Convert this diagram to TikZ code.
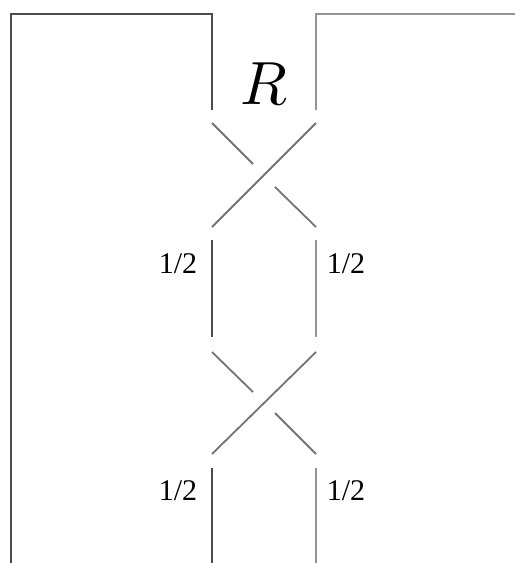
\documentclass[tikz,border=0pt]{standalone}
\usepackage{fontspec}
\newfontfamily\lblfont{Liberation Serif}
\begin{document}
\begin{tikzpicture}[x=1pt,y=-1pt,
  strandL/.style={draw=black!70,line width=2pt},
  strandR/.style={draw=black!42,line width=2pt},
  diag/.style={draw=black!55,line width=1.8pt},
  lbl/.style={inner sep=0pt,font=\lblfont\fontsize{30}{30}\selectfont}]
\useasboundingbox (0,0) rectangle (515,563);
% coordinates
\coordinate (oL) at (11,563);
\coordinate (cTL) at (11,14);
\coordinate (iTL) at (212,14);
\coordinate (iLend) at (212,110);
\coordinate (iTR) at (316,14);
\coordinate (iRend) at (316,110);
\coordinate (edgeR) at (515,14);
% crossing 1
\coordinate (a1) at (212,123);
\coordinate (a1m) at (253,164);
\coordinate (b1) at (316,123);
\coordinate (b1e) at (212,227);
\coordinate (c1) at (275,187);
\coordinate (c1e) at (316,227);
% verticals middle
\coordinate (vL1) at (212,240);
\coordinate (vL2) at (212,337);
\coordinate (vR1) at (316,240);
\coordinate (vR2) at (316,337);
% crossing 2
\coordinate (a2) at (212,352);
\coordinate (a2m) at (253,392);
\coordinate (b2) at (316,352);
\coordinate (b2e) at (212,454);
\coordinate (c2) at (275,413);
\coordinate (c2e) at (316,454);
% bottom verticals
\coordinate (wL1) at (212,468);
\coordinate (wL2) at (212,563);
\coordinate (wR1) at (316,468);
\coordinate (wR2) at (316,563);
% outer frame
\draw[strandL] (oL) -- (cTL) -- (iTL) -- (iLend);
\draw[strandR] (edgeR) -- (iTR) -- (iRend);
% crossings
\draw[diag] (a1) -- (a1m);
\draw[diag] (b1) -- (b1e);
\draw[diag] (c1) -- (c1e);
\draw[diag] (a2) -- (a2m);
\draw[diag] (b2) -- (b2e);
\draw[diag] (c2) -- (c2e);
% verticals
\draw[strandL] (vL1) -- (vL2);
\draw[strandR] (vR1) -- (vR2);
\draw[strandL] (wL1) -- (wL2);
\draw[strandR] (wR1) -- (wR2);
% labels
\node[inner sep=0pt,scale=6.1] (R) at (264,84) {$R$};
\node[lbl] (l1) at (178,264) {1/2};
\node[lbl] (r1) at (346,264) {1/2};
\node[lbl] (l2) at (178,491) {1/2};
\node[lbl] (r2) at (346,491) {1/2};
\end{tikzpicture}
\end{document}
